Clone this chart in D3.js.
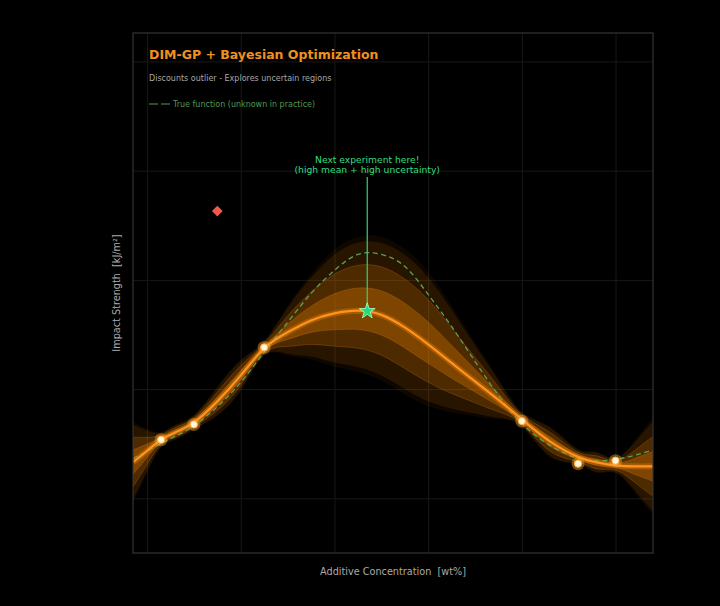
<!DOCTYPE html>
<html><head><meta charset="utf-8">
<script src="https://cdn.jsdelivr.net/npm/d3@7"></script>
<style>html,body{margin:0;background:#000;} svg{display:block} text{white-space:pre}</style>
</head><body>
<svg id="c" width="720" height="606"></svg>
<script>
// ---------- data ----------
const xGrid  = [-0.15, 0, 0.15, 0.3, 0.5, 0.75, 1.0, 1.25, 1.5, 1.75, 2.0, 2.25, 2.5, 2.75, 3.0, 3.25, 3.5, 3.75, 4.0, 4.3, 4.6, 4.8, 5.0, 5.2, 5.4];
const meanY  = [13.32, 14.35, 15.37, 16.04, 16.96, 18.88, 21.26, 23.73, 25.20, 26.29, 26.93, 27.18, 26.80, 25.65, 24.10, 22.40, 20.71, 19.02, 17.23, 15.22, 13.80, 13.30, 13.02, 12.93, 12.93];
const sigUp  = [1.14, 0.62, 0.22, 0.22, 0.22, 0.42, 0.45, 0.22, 0.75, 1.30, 1.80, 2.08, 2.20, 2.22, 2.05, 1.62, 1.10, 0.60, 0.22, 0.42, 0.22, 0.30, 0.22, 0.72, 1.37];
const sigDn  = [1.14, 0.62, 0.22, 0.22, 0.22, 0.42, 0.45, 0.22, 0.65, 1.10, 1.50, 1.72, 1.85, 1.88, 1.74, 1.40, 0.98, 0.55, 0.22, 0.45, 0.22, 0.30, 0.22, 0.72, 1.37];
const trueY  = [13.66, 14.30, 15.03, 15.68, 16.64, 18.38, 20.62, 23.39, 26.11, 28.76, 30.87, 32.33, 32.33, 31.24, 28.67, 25.74, 22.54, 19.43, 16.84, 14.85, 13.66, 13.43, 13.57, 13.94, 14.44];
const obsX   = [0.15, 0.5, 1.25, 4.0, 4.6, 5.0];
const obsY   = [15.37, 16.77, 23.82, 17.08, 13.18, 13.45];
const outlierX = [0.75];
const outlierY = [36.3];
const nextX  = [2.35];
const nextY  = [27.14];
const xTicks = [0, 1, 2, 3, 4, 5];
const yTicks = [10, 20, 30, 40, 50];
const titleText = "DIM-GP + Bayesian Optimization";
const subtitleText = "Discounts outlier - Explores uncertain regions";
const legendText = "True function (unknown in practice)";
const annot1 = "Next experiment here!";
const annot2 = "(high mean + high uncertainty)";
const xLabel = "Additive Concentration  [wt%]";
const yLabel = "Impact Strength  [kJ/m\u00B2]";

// ---------- layout ----------
const L = 133, T = 33, W = 520, H = 520;
const FONT = "'DejaVu Sans', sans-serif";
const svg = d3.select("#c");
svg.append("rect").attr("width",720).attr("height",606).attr("fill","#000");

const x = d3.scaleLinear().domain([-0.15, 5.4]).range([L, L+W]);
const y = d3.scaleLinear().domain([5, 52.6]).range([T+H, T]);

svg.append("defs").append("clipPath").attr("id","clip")
  .append("rect").attr("x",L).attr("y",T).attr("width",W).attr("height",H);

// grid via axes
const gx = svg.append("g").attr("transform",`translate(0,${T+H})`)
  .call(d3.axisBottom(x).tickValues(xTicks).tickSize(-H).tickFormat(""));
const gy = svg.append("g").attr("transform",`translate(${L},0)`)
  .call(d3.axisLeft(y).tickValues(yTicks).tickSize(-W).tickFormat(""));
[gx, gy].forEach(g => {
  g.select(".domain").remove();
  g.selectAll(".tick line").attr("stroke","#181818").attr("stroke-width",1);
});

const rows = xGrid.map((d,i)=>({x:d, m:meanY[i], su:sigUp[i], sd:sigDn[i], t:trueY[i]}));
const plot = svg.append("g").attr("clip-path","url(#clip)");
const CURVE = d3.curveNatural;

const bands = [
  {k:3.25, a:0.05},
  {k:3.0, a:0.11},
  {k:2.0, a:0.18},
  {k:1.0, a:0.28}
];
bands.forEach(b => {
  const area = d3.area().curve(CURVE)
    .x(d=>x(d.x)).y0(d=>y(d.m - b.k*d.sd)).y1(d=>y(d.m + b.k*d.su));
  plot.append("path").datum(rows).attr("d",area)
    .attr("fill",`rgba(255,140,0,${b.a})`)
    .attr("stroke", b.k<=2 ? "rgba(255,150,40,0.3)" : "none")
    .attr("stroke-width",0.7);
});

// true function
const lineT = d3.line().curve(CURVE).x(d=>x(d.x)).y(d=>y(d.t));
plot.append("path").datum(rows).attr("d",lineT).attr("fill","none")
  .attr("stroke","#5c9e5c").attr("stroke-width",1.3).attr("stroke-dasharray","5,3.5");

// mean line with glow
const lineM = d3.line().curve(CURVE).x(d=>x(d.x)).y(d=>y(d.m));
plot.append("path").datum(rows).attr("d",lineM).attr("fill","none")
  .attr("stroke","rgba(255,140,0,0.3)").attr("stroke-width",6);
plot.append("path").datum(rows).attr("d",lineM).attr("fill","none")
  .attr("stroke","#ff9320").attr("stroke-width",2.2);

// observations
const obs = obsX.map((d,i)=>({x:d,y:obsY[i]}));
svg.selectAll(".glow").data(obs).enter().append("circle")
  .attr("cx",d=>x(d.x)).attr("cy",d=>y(d.y)).attr("r",6.5)
  .attr("fill","rgba(255,160,40,0.45)");
svg.selectAll(".pt").data(obs).enter().append("circle")
  .attr("cx",d=>x(d.x)).attr("cy",d=>y(d.y)).attr("r",3.6)
  .attr("fill","#fff6e0").attr("stroke","#ffb040").attr("stroke-width",1);

// outlier
svg.selectAll(".out").data(outlierX.map((d,i)=>({x:d,y:outlierY[i]}))).enter()
  .append("path").attr("d",d3.symbol(d3.symbolSquare,58)())
  .attr("transform",d=>`translate(${x(d.x)},${y(d.y)}) rotate(45)`)
  .attr("fill","#f0584e");

// next-experiment annotation
const nx = x(nextX[0]), ny = y(nextY[0]);
svg.append("line").attr("x1",nx).attr("x2",nx).attr("y1",177).attr("y2",ny)
  .attr("stroke","#2ed47a").attr("stroke-width",1.2);
svg.append("path").attr("d",d3.symbol(d3.symbolStar,78)())
  .attr("transform",`translate(${nx},${ny})`)
  .attr("fill","#22dd77").attr("stroke","#b6ffd2").attr("stroke-width",0.8);
svg.append("text").attr("x",nx).attr("y",163).attr("text-anchor","middle")
  .attr("font-family",FONT).attr("font-size",9.2).attr("fill","#33dd80").text(annot1);
svg.append("text").attr("x",nx).attr("y",173).attr("text-anchor","middle")
  .attr("font-family",FONT).attr("font-size",9.2).attr("fill","#33dd80").text(annot2);

// frame
svg.append("rect").attr("x",L).attr("y",T).attr("width",W).attr("height",H)
  .attr("fill","none").attr("stroke","#303030").attr("stroke-width",1.3);

// titles
svg.append("text").attr("x",149).attr("y",59).attr("font-family",FONT)
  .attr("font-weight","bold").attr("font-size",12.5).attr("fill","#f0901e").text(titleText);
svg.append("text").attr("x",149).attr("y",81).attr("font-family",FONT)
  .attr("font-size",8).attr("fill","#a8a8a8").text(subtitleText);
svg.append("line").attr("x1",149).attr("x2",158).attr("y1",104).attr("y2",104)
  .attr("stroke","#4f9a55").attr("stroke-width",1);
svg.append("line").attr("x1",161).attr("x2",170).attr("y1",104).attr("y2",104)
  .attr("stroke","#4f9a55").attr("stroke-width",1);
svg.append("text").attr("x",173).attr("y",107).attr("font-family",FONT)
  .attr("font-size",8).attr("fill","#4f9a55").text(legendText);

// axis labels
svg.append("text").attr("x",L+W/2).attr("y",575).attr("text-anchor","middle")
  .attr("font-family",FONT).attr("font-size",9.7).attr("fill","#aaa").text(xLabel);
svg.append("text").attr("transform",`translate(119.5,${T+H/2}) rotate(-90)`)
  .attr("text-anchor","middle").attr("font-family",FONT).attr("font-size",9.7)
  .attr("fill","#aaa").text(yLabel);
</script>
</body></html>
